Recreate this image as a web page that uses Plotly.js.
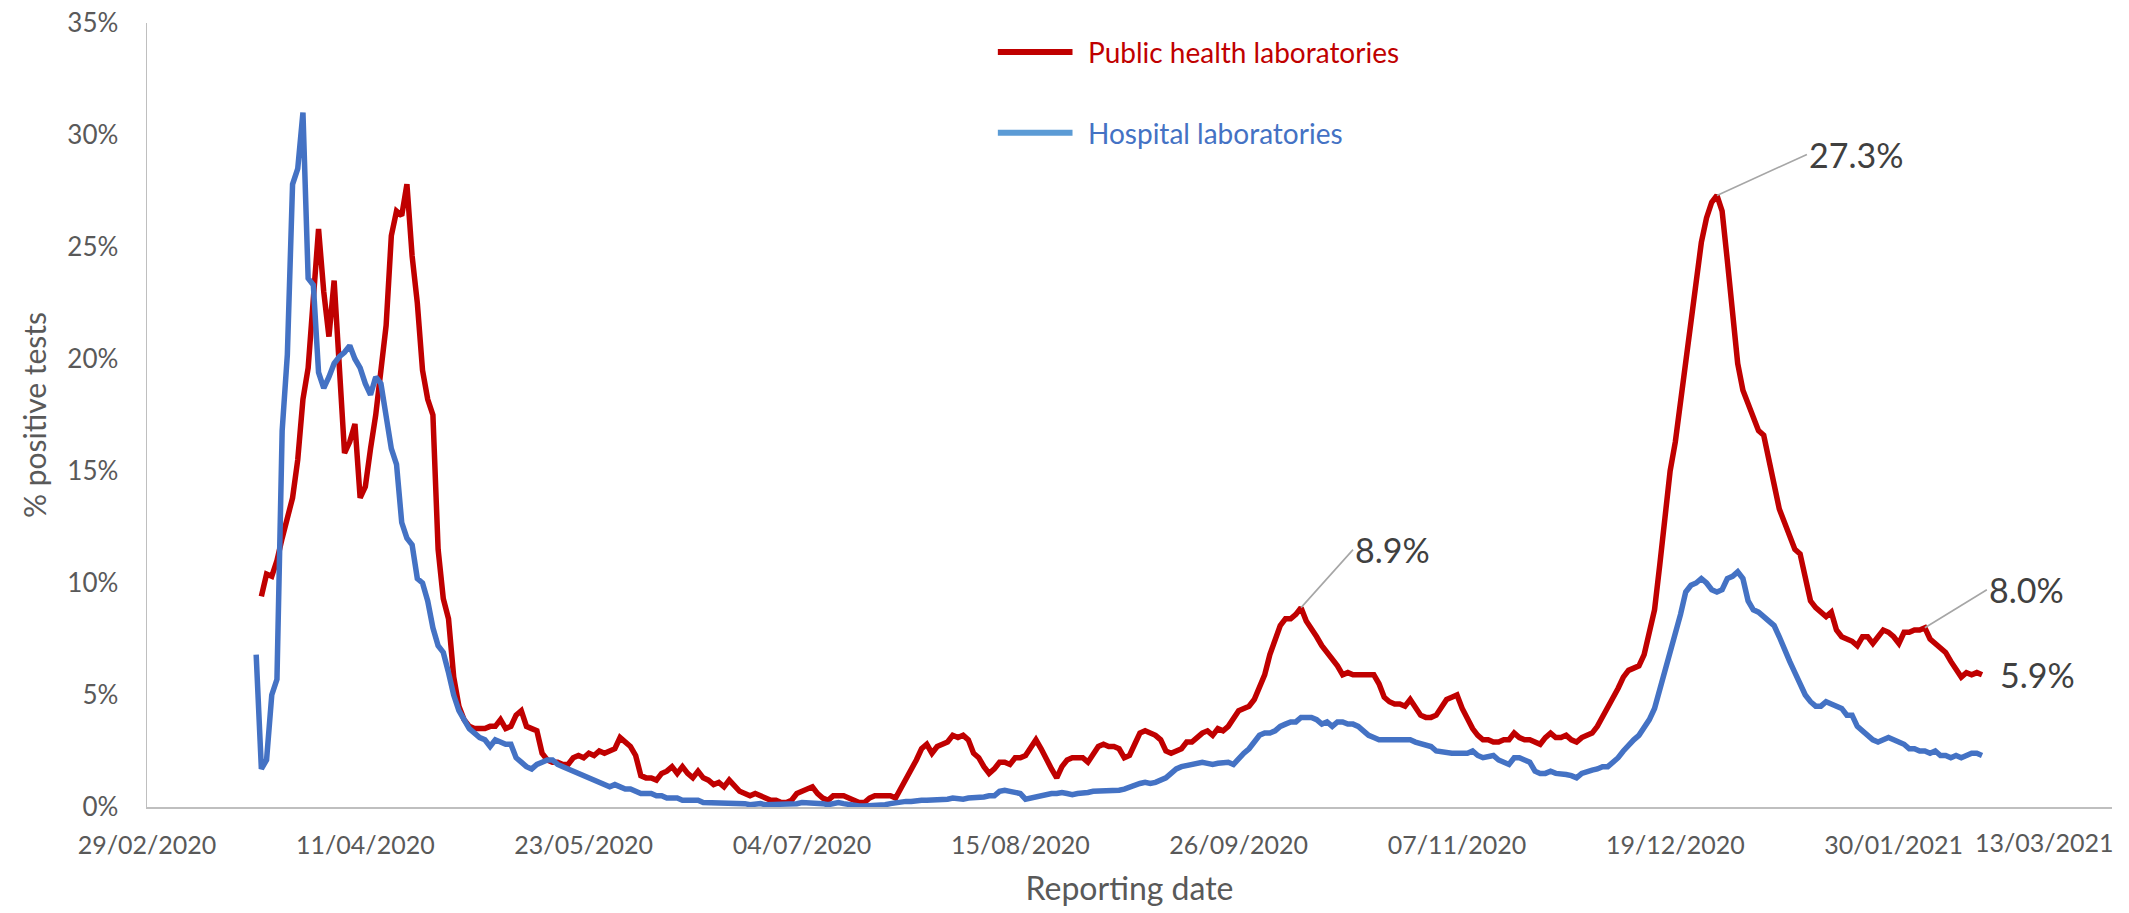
<!DOCTYPE html>
<html>
<head>
<meta charset="utf-8">
<script src="https://cdn.plot.ly/plotly-3.0.1.min.js"></script>
<style>html,body{margin:0;padding:0;background:#fff;}#chart{width:2129px;height:913px;}</style>
</head>
<body>
<div id="chart"></div>
<script>
// ---- Data (daily % positive tests) ----
const seriesNames = ['Public health laboratories', 'Hospital laboratories'];
const publicStart = '2020-03-22';
const hospitalStart = '2020-03-21';

const publicHealth = [
  9.4, 10.4, 10.3, 11.0, 12.0, 12.8, 13.8, 15.5, 18.2, 19.6,
  22.5, 25.8, 23.0, 21.0, 23.5, 19.5, 15.8, 16.3, 17.1, 13.8,
  14.3, 16.0, 17.5, 19.5, 21.5, 25.5, 26.6, 26.4, 27.8, 24.6,
  22.5, 19.5, 18.2, 17.5, 11.5, 9.3, 8.4, 5.8, 4.5, 3.9,
  3.6, 3.5, 3.5, 3.5, 3.6, 3.6, 3.9, 3.5, 3.6, 4.1,
  4.3, 3.6, 3.5, 3.4, 2.4, 2.1, 2.0, 2.0, 1.9, 1.9,
  2.2, 2.3, 2.2, 2.4, 2.3, 2.5, 2.4, 2.5, 2.6, 3.1,
  2.9, 2.7, 2.3, 1.4, 1.3, 1.3, 1.2, 1.5, 1.6, 1.8,
  1.5, 1.8, 1.5, 1.3, 1.6, 1.3, 1.2, 1.0, 1.1, 0.9,
  1.2, 0.9, 0.7, 0.6, 0.5, 0.6, 0.5, 0.4, 0.3, 0.3,
  0.2, 0.2, 0.3, 0.6, 0.7, 0.8, 0.9, 0.6, 0.4, 0.3,
  0.5, 0.5, 0.5, 0.4, 0.3, 0.2, 0.2, 0.4, 0.5, 0.5,
  0.5, 0.5, 0.4, 0.8, 1.2, 1.6, 2.1, 2.6, 2.8, 2.4,
  2.7, 2.8, 2.9, 3.2, 3.1, 3.2, 3.0, 2.4, 2.2, 1.8,
  1.5, 1.7, 2.0, 2.0, 1.9, 2.2, 2.2, 2.3, 2.7, 3.0,
  2.6, 2.1, 1.7, 1.3, 1.8, 2.1, 2.2, 2.2, 2.2, 2.0,
  2.4, 2.7, 2.8, 2.7, 2.7, 2.6, 2.2, 2.3, 2.8, 3.3,
  3.4, 3.3, 3.2, 3.0, 2.5, 2.4, 2.5, 2.6, 2.9, 2.9,
  3.1, 3.3, 3.4, 3.2, 3.5, 3.4, 3.6, 4.0, 4.3, 4.4,
  4.5, 4.8, 5.3, 5.9, 6.8, 7.4, 8.1, 8.4, 8.4, 8.6,
  8.9, 8.3, 8.0, 7.6, 7.2, 6.9, 6.5, 6.3, 5.9, 6.0,
  5.9, 5.9, 5.9, 5.9, 5.9, 5.5, 4.9, 4.7, 4.6, 4.6,
  4.5, 4.8, 4.4, 4.1, 4.0, 4.0, 4.1, 4.4, 4.8, 4.9,
  5.0, 4.4, 3.9, 3.5, 3.2, 3.0, 3.0, 2.9, 2.9, 3.0,
  3.0, 3.3, 3.1, 3.0, 3.0, 2.9, 2.8, 3.1, 3.3, 3.1,
  3.1, 3.2, 3.0, 2.9, 3.1, 3.2, 3.3, 3.6, 4.0, 4.4,
  4.9, 5.3, 5.8, 6.1, 6.2, 6.3, 6.8, 7.8, 8.8, 10.8,
  13.2, 15.0, 16.3, 18.0, 20.0, 21.8, 23.5, 25.2, 26.3, 27.0,
  27.3, 26.6, 24.4, 22.0, 19.8, 18.6, 18.0, 17.3, 16.8, 16.6,
  15.6, 14.4, 13.3, 12.7, 12.0, 11.5, 11.3, 10.2, 9.2, 8.9,
  8.7, 8.5, 8.7, 7.9, 7.6, 7.5, 7.4, 7.2, 7.6, 7.6,
  7.3, 7.6, 7.9, 7.8, 7.6, 7.3, 7.8, 7.8, 7.9, 7.9,
  8.0, 7.5, 7.3, 7.1, 6.9, 6.5, 6.2, 5.8, 6.0, 5.9,
  6.0, 5.9
];

const hospital = [
  6.8, 1.7, 2.1, 5.0, 5.7, 16.8, 20.2, 27.8, 28.5, 31.0,
  23.6, 23.3, 19.4, 18.7, 19.2, 19.8, 20.1, 20.3, 20.6, 20.0,
  19.6, 18.9, 18.4, 19.2, 18.9, 17.3, 16.0, 15.3, 12.7, 12.0,
  11.7, 10.2, 10.0, 9.2, 8.0, 7.2, 6.9, 6.0, 5.0, 4.3,
  3.9, 3.5, 3.3, 3.1, 3.0, 2.7, 3.0, 2.9, 2.8, 2.8,
  2.2, 2.0, 1.8, 1.7, 1.9, 2.0, 2.1, 2.1, 1.9, 1.8,
  1.7, 1.6, 1.5, 1.4, 1.3, 1.2, 1.1, 1.0, 0.9, 1.0,
  0.9, 0.8, 0.8, 0.7, 0.6, 0.6, 0.6, 0.5, 0.5, 0.4,
  0.4, 0.4, 0.3, 0.3, 0.3, 0.3, 0.2, 0.2, 0.2, 0.2,
  0.2, 0.2, 0.15, 0.15, 0.15, 0.1, 0.15, 0.15, 0.1, 0.1,
  0.1, 0.1, 0.1, 0.15, 0.15, 0.2, 0.2, 0.2, 0.15, 0.15,
  0.1, 0.15, 0.2, 0.15, 0.1, 0.1, 0.05, 0.05, 0.05, 0.1,
  0.1, 0.1, 0.15, 0.2, 0.2, 0.25, 0.25, 0.3, 0.3, 0.3,
  0.3, 0.35, 0.35, 0.35, 0.4, 0.35, 0.35, 0.4, 0.4, 0.4,
  0.45, 0.5, 0.5, 0.7, 0.75, 0.7, 0.65, 0.6, 0.35, 0.4,
  0.5, 0.5, 0.55, 0.6, 0.6, 0.65, 0.6, 0.55, 0.6, 0.6,
  0.65, 0.7, 0.7, 0.7, 0.7, 0.7, 0.75, 0.8, 0.9, 1.0,
  1.05, 1.1, 1.05, 1.1, 1.2, 1.3, 1.5, 1.7, 1.8, 1.85,
  1.9, 1.9, 2.0, 1.95, 1.9, 1.95, 2.0, 2.0, 1.9, 2.2,
  2.4, 2.6, 2.9, 3.2, 3.3, 3.3, 3.4, 3.6, 3.7, 3.8,
  3.8, 4.0, 4.0, 4.0, 3.9, 3.7, 3.8, 3.6, 3.8, 3.8,
  3.7, 3.7, 3.6, 3.4, 3.2, 3.1, 3.0, 3.0, 3.0, 3.0,
  3.0, 3.0, 3.0, 2.9, 2.85, 2.8, 2.7, 2.5, 2.45, 2.4,
  2.4, 2.4, 2.4, 2.4, 2.5, 2.3, 2.2, 2.25, 2.3, 2.1,
  2.0, 1.9, 2.2, 2.2, 2.1, 2.0, 1.6, 1.5, 1.5, 1.6,
  1.5, 1.5, 1.45, 1.4, 1.3, 1.5, 1.6, 1.65, 1.7, 1.8,
  1.8, 2.0, 2.2, 2.5, 2.8, 3.0, 3.2, 3.5, 3.9, 4.4,
  5.2, 6.0, 7.0, 7.8, 8.6, 9.6, 9.9, 10.0, 10.2, 10.0,
  9.7, 9.6, 9.7, 10.2, 10.3, 10.5, 10.2, 9.2, 8.8, 8.7,
  8.5, 8.3, 8.1, 7.6, 7.0, 6.5, 6.0, 5.5, 5.0, 4.7,
  4.5, 4.5, 4.7, 4.6, 4.5, 4.4, 4.1, 4.1, 3.6, 3.4,
  3.2, 3.0, 2.9, 3.0, 3.1, 3.0, 2.9, 2.8, 2.6, 2.6,
  2.5, 2.5, 2.4, 2.5, 2.3, 2.3, 2.2, 2.3, 2.2, 2.3,
  2.4, 2.4, 2.3
];

const tickDates = ['2020-02-29','2020-04-11','2020-05-23','2020-07-04','2020-08-15',
                   '2020-09-26','2020-11-07','2020-12-19','2021-01-30','2021-03-13'];
const tickLabels = ['29/02/2020','11/04/2020','23/05/2020','04/07/2020','15/08/2020',
                    '26/09/2020','07/11/2020','19/12/2020','30/01/2021','13/03/2021'];
const labelledDates = ['2020-10-08', '2020-12-27', '2021-02-05'];

// ---- helpers ----
function dailyDates(start, n) {
  const out = [];
  const d0 = new Date(start + 'T00:00:00Z');
  for (let i = 0; i < n; i++) {
    const d = new Date(d0.getTime() + i * 86400000);
    out.push(d.toISOString().slice(0, 10));
  }
  return out;
}
const publicDates = dailyDates(publicStart, publicHealth.length);
const hospitalDates = dailyDates(hospitalStart, hospital.length);

const RED = '#C00000', BLUE = '#4472C4', GREY = '#595959';
const FONT = 'Lato, "Open Sans", sans-serif';

const traces = [
  { x: publicDates, y: publicHealth, type: 'scatter', mode: 'lines', name: seriesNames[0],
    line: { color: RED, width: 5.5 }, showlegend: false },
  { x: hospitalDates, y: hospital, type: 'scatter', mode: 'lines', name: seriesNames[1],
    line: { color: BLUE, width: 5.5 }, showlegend: false }
];

// annotations from the data
const offsets = [[52, -58], [90, -41], [62, -38]];
const annotations = labelledDates.map((dt, k) => {
  const i = publicDates.indexOf(dt);
  return { x: dt, y: publicHealth[i], xref: 'x', yref: 'y',
    text: publicHealth[i].toFixed(1) + '%', showarrow: true, arrowhead: 0,
    arrowwidth: 1.6, arrowcolor: '#A6A6A6', ax: offsets[k][0], ay: offsets[k][1],
    xanchor: 'left', yanchor: 'middle', standoff: 0,
    font: { family: FONT, size: 34, color: '#404040' } };
});
const last = publicHealth.length - 1;
annotations.push({ x: publicDates[last], y: publicHealth[last], xref: 'x', yref: 'y',
  text: publicHealth[last].toFixed(1) + '%', showarrow: false, xanchor: 'left', yanchor: 'middle',
  xshift: 16, font: { family: FONT, size: 34, color: '#404040' } });
// last tick label (shifted left like the original)
annotations.push({ x: 1.002, y: 0, xref: 'paper', yref: 'paper', yshift: -35,
  text: tickLabels[tickLabels.length - 1], showarrow: false, xanchor: 'right', yanchor: 'middle',
  font: { family: FONT, size: 25, color: GREY } });
// manual legend
annotations.push({ x: 0.478, y: 0.963, xref: 'paper', yref: 'paper', text: seriesNames[0],
  showarrow: false, xanchor: 'left', yanchor: 'middle', font: { family: FONT, size: 28, color: RED } });
annotations.push({ x: 0.478, y: 0.860, xref: 'paper', yref: 'paper', text: seriesNames[1],
  showarrow: false, xanchor: 'left', yanchor: 'middle', font: { family: FONT, size: 28, color: BLUE } });

const shapes = [
  { type: 'line', xref: 'paper', yref: 'paper', x0: 0.433, x1: 0.471, y0: 0.963, y1: 0.963,
    line: { color: RED, width: 6 } },
  { type: 'line', xref: 'paper', yref: 'paper', x0: 0.433, x1: 0.471, y0: 0.860, y1: 0.860,
    line: { color: '#5B9BD5', width: 6 } }
];

const shownTickText = tickLabels.slice(0, -1).concat(['']);

const layout = {
  width: 2129, height: 913,
  margin: { l: 147, r: 17, t: 23, b: 106 },
  paper_bgcolor: '#fff', plot_bgcolor: '#fff',
  font: { family: FONT, color: GREY },
  xaxis: {
    type: 'date', range: [tickDates[0], tickDates[tickDates.length - 1]],
    tickvals: tickDates, ticktext: shownTickText, ticks: '',
    showgrid: false, zeroline: false, showline: true, linecolor: '#BFBFBF', linewidth: 1.5,
    tickfont: { family: FONT, size: 25, color: GREY }, ticklabelstandoff: 15,
    title: { text: 'Reporting date', font: { family: FONT, size: 32, color: GREY }, standoff: 20 }
  },
  yaxis: {
    range: [0, 35], dtick: 5, tick0: 0, ticksuffix: '%', ticks: '',
    showgrid: false, zeroline: false, showline: true, linecolor: '#BFBFBF', linewidth: 1.5,
    tickfont: { family: FONT, size: 26, color: GREY }, ticklabelstandoff: 22,
    title: { text: '% positive tests', font: { family: FONT, size: 30, color: GREY }, standoff: 12 }
  },
  annotations: annotations,
  shapes: shapes,
  showlegend: false
};

Plotly.newPlot('chart', traces, layout, { displayModeBar: false, staticPlot: true });
</script>
</body>
</html>
